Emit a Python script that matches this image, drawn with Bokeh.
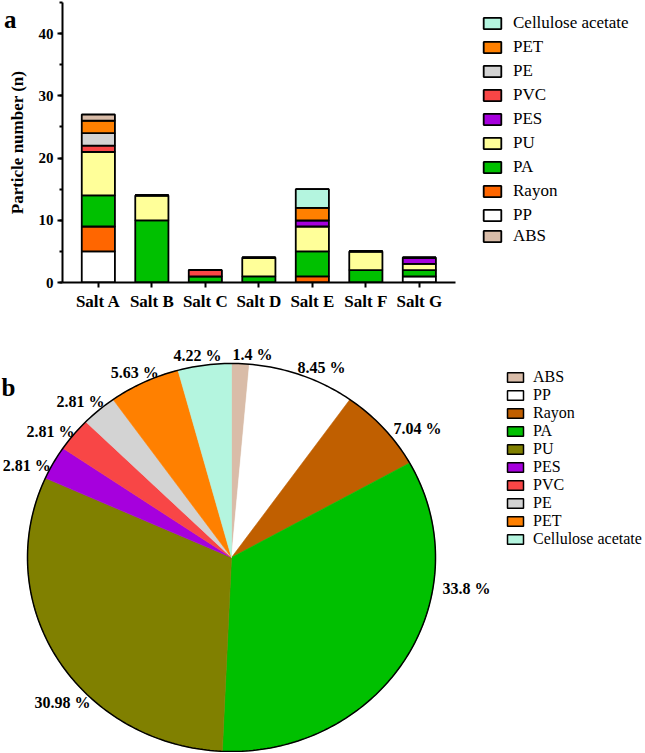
import math
from bokeh.plotting import figure
from bokeh.models import (Range1d, ColumnDataSource, Legend, LegendItem, Label,
                          SingleIntervalTicker, LinearAxis, FixedTicker)
from bokeh.embed import file_html
from bokeh.resources import INLINE
from bokeh.core.properties import value

# ---------------- data ----------------
salts = ["Salt A", "Salt B", "Salt C", "Salt D", "Salt E", "Salt F", "Salt G"]
PP = [5, 0, 0, 0, 0, 0, 1]
Rayon = [4, 0, 0, 0, 1, 0, 0]
PA = [5, 10, 1, 1, 4, 2, 1]
PU = [7, 4, 0, 3, 4, 3, 1]
PES = [0, 0, 0, 0, 1, 0, 1]
PVC = [1, 0, 1, 0, 0, 0, 0]
PE = [2, 0, 0, 0, 0, 0, 0]
PET = [2, 0, 0, 0, 2, 0, 0]
CA = [0, 0, 0, 0, 3, 0, 0]
ABS = [1, 0, 0, 0, 0, 0, 0]

pie_names = ["ABS", "PP", "Rayon", "PA", "PU", "PES", "PVC", "PE", "PET", "Cellulose acetate"]
pie_pct = [1.4, 8.45, 7.04, 33.8, 30.98, 2.81, 2.81, 2.81, 5.63, 4.22]

# ---------------- styles ----------------
SERIF = "Liberation Serif"
bar_order = ["PP", "Rayon", "PA", "PU", "PES", "PVC", "PE", "PET", "Cellulose acetate", "ABS"]
bar_cols = {"PP": "#FFFFFF", "Rayon": "#FF6600", "PA": "#00C000", "PU": "#FFFF99",
            "PES": "#A600DD", "PVC": "#F84646", "PE": "#D3D3D3", "PET": "#FF8000",
            "Cellulose acetate": "#B4F5DF", "ABS": "#D9BCA8"}
pie_cols = {"ABS": "#D9BCA8", "PP": "#FFFFFF", "Rayon": "#C05F00", "PA": "#00C000",
            "PU": "#808000", "PES": "#A600DD", "PVC": "#F84646", "PE": "#D3D3D3",
            "PET": "#FF8000", "Cellulose acetate": "#B4F5DF"}

W = 645
H1 = 335
LEFT = 62
TOP = 2
FRAME_H = 280
FRAME_W = W - LEFT
CAT_PX = 53.5              # pixel pitch of one salt category
PAD = 0.67                 # category units between axis and first/last bar centre

# ---------------- bar chart ----------------
xpos = [i + 1 for i in range(len(salts))]
src = ColumnDataSource(dict(x=xpos, PP=PP, Rayon=Rayon, PA=PA, PU=PU, PES=PES,
                            PVC=PVC, PE=PE, PET=PET, CA=CA, ABS=ABS))
keys = {"PP": "PP", "Rayon": "Rayon", "PA": "PA", "PU": "PU", "PES": "PES", "PVC": "PVC",
        "PE": "PE", "PET": "PET", "Cellulose acetate": "CA", "ABS": "ABS"}

x0 = xpos[0] - PAD
x1 = x0 + FRAME_W / CAT_PX
p1 = figure(x_range=Range1d(x0, x1), y_range=Range1d(0, 45), width=W, height=H1,
            output_backend="svg", toolbar_location=None,
            min_border_left=LEFT, min_border_right=0,
            min_border_top=TOP, min_border_bottom=H1 - TOP - FRAME_H)
p1.outline_line_color = None
p1.xgrid.visible = False
p1.ygrid.visible = False

rends = p1.vbar_stack([keys[k] for k in bar_order], x="x", width=0.62, source=src,
                      fill_color=[bar_cols[k] for k in bar_order],
                      line_color="black", line_width=1.8)
rmap = dict(zip(bar_order, rends))

p1.yaxis.ticker = SingleIntervalTicker(interval=10, num_minor_ticks=2)
p1.yaxis.axis_label = "Particle number (n)"
p1.xaxis.ticker = FixedTicker(ticks=xpos)
p1.xaxis.major_label_overrides = {xp: s for xp, s in zip(xpos, salts)}
p1.xaxis.bounds = (x0, xpos[-1] + PAD)
for ax in (p1.xaxis[0], p1.yaxis[0]):
    ax.axis_line_width = 2
    ax.major_tick_line_width = 2
    ax.major_tick_out = 5
    ax.major_tick_in = 0
    ax.minor_tick_line_width = 2
    ax.minor_tick_out = 3
    ax.minor_tick_in = 0
    ax.major_label_text_font = SERIF
    ax.major_label_text_font_style = "bold"
    ax.major_label_text_color = "black"
    ax.axis_label_text_font = SERIF
    ax.axis_label_text_font_style = "bold"
    ax.axis_label_text_font_size = "17px"
    ax.axis_label_text_color = "black"
    ax.axis_line_color = "black"
    ax.major_tick_line_color = "black"
    ax.minor_tick_line_color = "black"
p1.xaxis.minor_tick_line_color = None
p1.yaxis.major_label_text_font_size = "15px"
p1.xaxis.major_label_text_font_size = "17px"
p1.yaxis.major_label_standoff = 4
p1.xaxis.major_label_standoff = 4
p1.yaxis.axis_label_standoff = 9

# panel letter "a" as an extra, line-less axis on the far left
ax_a = LinearAxis(ticker=FixedTicker(ticks=[44]), major_label_overrides={44: "a"},
                  axis_line_color=None, major_tick_line_color=None,
                  minor_tick_line_color=None, major_tick_out=0, major_tick_in=0,
                  minor_tick_out=0, minor_tick_in=0, major_label_standoff=-12,
                  major_label_text_font=SERIF, major_label_text_font_style="bold",
                  major_label_text_font_size="25px", major_label_text_color="black")
p1.add_layout(ax_a, "left")

def legend_kw(font):
    return dict(glyph_width=22, glyph_height=14, label_height=20, spacing=4,
                label_standoff=10, padding=0, margin=0,
                border_line_alpha=0, background_fill_alpha=0,
                label_text_font=SERIF, label_text_font_size=font,
                label_text_color="black")

leg_main = ["Cellulose acetate", "PET", "PE", "PVC", "PES", "PU", "PA", "Rayon", "PP"]
leg_h = len(leg_main) * 20 + (len(leg_main) - 1) * 4
LEG_X = 481 - LEFT
lg1 = Legend(items=[LegendItem(label=k, renderers=[rmap[k]]) for k in leg_main],
             location=(LEG_X, FRAME_H - (23 - 10 - TOP) - leg_h), **legend_kw("17px"))
lg2 = Legend(items=[LegendItem(label="ABS", renderers=[rmap["ABS"]])],
             location=(LEG_X, FRAME_H - (236 + 10 - TOP)), **legend_kw("17px"))
p1.add_layout(lg1, "center")
p1.add_layout(lg2, "center")

# ---------------- pie chart ----------------
H2 = 417
p2 = figure(width=W, height=H2, x_range=Range1d(0, W), y_range=Range1d(0, H2),
            output_backend="svg", toolbar_location=None, min_border=0)
p2.axis.visible = False
p2.grid.visible = False
p2.outline_line_color = None

def py_(y_page):          # page y (from top) -> data y of the pie figure
    return (H1 + H2) - y_page

cx, cy, rx, ry = 231, py_(557), 204, 194
total = sum(pie_pct)
xs, ys = [], []
acc = 0.0
for v in pie_pct:
    a0 = 2 * math.pi * acc / total
    a1 = 2 * math.pi * (acc + v) / total
    n = max(4, int(200 * v / total))
    px, pyy = [cx], [cy]
    for i in range(n + 1):
        t = a0 + (a1 - a0) * i / n
        px.append(cx + rx * math.sin(t))
        pyy.append(cy + ry * math.cos(t))
    xs.append(px)
    ys.append(pyy)
    acc += v
pcols = [pie_cols[k] for k in pie_names]
p2.patches(xs=xs, ys=ys, fill_color=pcols, line_color=pcols, line_width=0.6)
tt = [2 * math.pi * i / 360 for i in range(361)]
p2.line([cx + rx * math.sin(t) for t in tt], [cy + ry * math.cos(t) for t in tt],
        line_color="black", line_width=1.5)

# label placement (angle clockwise from top, distance in px from centre)
label_angle = [5.9, 25.3, 55.2, 97.4, 229.3, 294.2, 304.9, 316.0, 332.3, 350.5]
label_dist = [203.6, 210.7, 226.6, 237, 223, 224.5, 220.8, 217.5, 208.4, 205.3]
lx = [cx + d * math.sin(math.radians(a)) for a, d in zip(label_angle, label_dist)]
ly = [cy + d * math.cos(math.radians(a)) for a, d in zip(label_angle, label_dist)]
p2.text(x=lx, y=ly, text=[f"{v} %" for v in pie_pct],
        text_font=value(SERIF), text_font_style="bold", text_font_size="16px",
        text_align="center", text_baseline="middle", text_color="black")

nan = float("nan")
items2 = []
for k in pie_names:
    r = p2.rect(x=[nan], y=[nan], width=1, height=1, fill_color=pie_cols[k],
                line_color="black", line_width=1.5)
    items2.append(LegendItem(label=k, renderers=[r]))
n2 = len(pie_names)
lg3 = Legend(items=items2, location=(505, py_(377 - 9) - n2 * 18),
             glyph_width=20, glyph_height=12, label_height=18, spacing=0,
             label_standoff=8, padding=0, margin=0,
             border_line_alpha=0, background_fill_alpha=0,
             label_text_font=SERIF, label_text_font_size="16px",
             label_text_color="black")
p2.add_layout(lg3, "center")

p2.add_layout(Label(x=1, y=py_(387), text="b", text_font=SERIF, text_font_style="bold",
                    text_font_size="25px", text_baseline="alphabetic", text_align="left",
                    text_color="black"))

open("out.html", "w").write(file_html([p1, p2], INLINE))
